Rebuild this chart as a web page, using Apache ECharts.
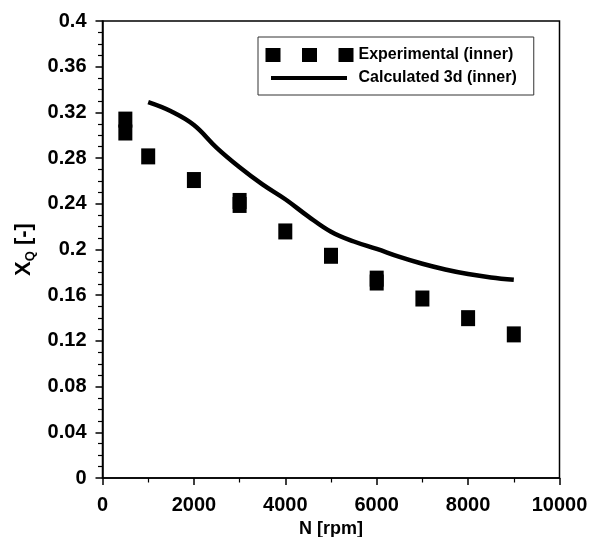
<!DOCTYPE html>
<html><head><meta charset="utf-8">
<script src="https://cdn.jsdelivr.net/npm/echarts@6/dist/echarts.min.js"></script>
<style>html,body{margin:0;padding:0;background:#fff}#c{width:589px;height:537px}</style>
</head><body><div id="c"></div>
<script>
const xTicks = [0, 2000, 4000, 6000, 8000, 10000];
const yTicks = [0, 0.04, 0.08, 0.12, 0.16, 0.2, 0.24, 0.28, 0.32, 0.36, 0.4];
const expName = 'Experimental (inner)';
const calcName = 'Calculated 3d (inner)';
const expN = [500, 500, 1000, 2000, 3000, 3000, 4000, 5000, 6000, 6000, 7000, 8000, 9000];
const expXQ = [0.3137, 0.3024, 0.2815, 0.2608, 0.2425, 0.2390, 0.2158, 0.1945, 0.1745, 0.1711, 0.1571, 0.1399, 0.1257];
const calcN = [1000, 1500, 2000, 2500, 3000, 3500, 4000, 4500, 5000, 5500, 6000, 6500, 7000, 7500, 8000, 8500, 9000];
const calcXQ = [0.329, 0.321, 0.309, 0.289, 0.272, 0.257, 0.244, 0.229, 0.2155, 0.207, 0.2005, 0.1935, 0.1875, 0.1825, 0.1785, 0.1755, 0.1735];

const FONT = 'Liberation Sans, Arial, sans-serif';
const chart = echarts.init(document.getElementById('c'), null, {renderer: 'canvas'});
chart.setOption({
  animation: false,
  backgroundColor: '#fff',
  grid: {left: 102.5, right: 29.5, top: 21, bottom: 59, show: true, borderColor: '#000', borderWidth: 1.5, containLabel: false, outerBoundsMode: 'none'},
  legend: {
    orient: 'vertical', left: 258, top: 37,
    padding: [10, 17, 9, 7.5], itemGap: 7,
    borderColor: '#333', borderWidth: 1,
    itemWidth: 88, itemHeight: 14,
    itemStyle: {borderWidth: 0},
    textStyle: {fontFamily: FONT, fontSize: 16, fontWeight: 'bold', color: '#000'},
    data: [
      {name: expName, icon: 'path://M0,0h15v14h-15zM36.5,0h15v14h-15zM73,0h15v14h-15z'},
      {name: calcName, icon: 'path://M0,0M88,14M5.5,5h76v4h-76z'}
    ]
  },
  xAxis: {
    type: 'value', min: xTicks[0], max: xTicks[xTicks.length - 1], interval: xTicks[1] - xTicks[0],
    name: 'N [rpm]', nameLocation: 'middle', nameGap: 34,
    nameTextStyle: {fontFamily: FONT, fontSize: 18, fontWeight: 'bold', color: '#000'},
    axisLine: {show: true, onZero: false, lineStyle: {color: '#000', width: 1.5}},
    axisTick: {show: true, inside: false, length: 7, lineStyle: {color: '#000', width: 1.5}},
    minorTick: {show: true, splitNumber: 2, length: 4.5, lineStyle: {color: '#000', width: 1.2}},
    splitLine: {show: false},
    axisLabel: {margin: 17, fontFamily: FONT, fontSize: 20, fontWeight: 'bold', color: '#000', formatter: v => String(v)}
  },
  yAxis: {
    type: 'value', min: yTicks[0], max: yTicks[yTicks.length - 1], interval: yTicks[1] - yTicks[0],
    name: '{a|X}{b|Q}{a| [-]}', nameLocation: 'middle', nameGap: 64,
    nameTextStyle: {
      color: '#000',
      rich: {
        a: {fontFamily: FONT, fontSize: 22, fontWeight: 'bold', color: '#000', lineHeight: 26},
        b: {fontFamily: FONT, fontSize: 13, fontWeight: 'bold', color: '#000', verticalAlign: 'bottom', lineHeight: 16}
      }
    },
    axisLine: {show: true, onZero: false, lineStyle: {color: '#000', width: 1.5}},
    axisTick: {show: true, inside: false, length: 7, lineStyle: {color: '#000', width: 1.5}},
    minorTick: {show: true, splitNumber: 4, length: 4.5, lineStyle: {color: '#000', width: 1.2}},
    splitLine: {show: false},
    axisLabel: {margin: 16, fontFamily: FONT, fontSize: 20, fontWeight: 'bold', color: '#000'}
  },
  series: [
    {
      name: expName, type: 'scatter', symbol: 'rect', symbolSize: [14, 16],
      itemStyle: {color: '#000', opacity: 1},
      data: expN.map((n, i) => [n, expXQ[i]]), z: 3
    },
    {
      name: calcName, type: 'line', smooth: 0.4, showSymbol: false, symbol: 'none',
      lineStyle: {color: '#000', width: 4.5}, itemStyle: {color: '#000'},
      data: calcN.map((n, i) => [n, calcXQ[i]]), z: 2
    }
  ]
});
</script></body></html>
